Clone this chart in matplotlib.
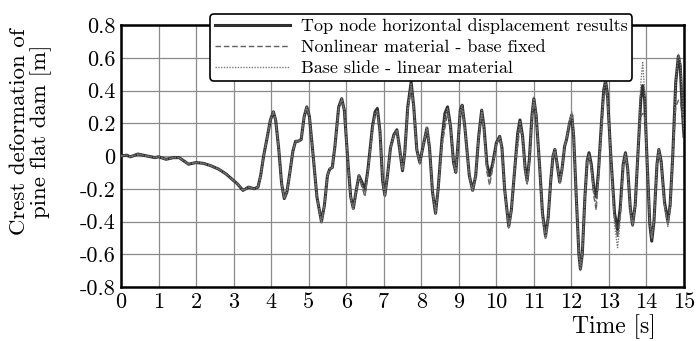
import matplotlib
matplotlib.use("Agg")
import matplotlib.pyplot as plt

plt.rcParams['font.family'] = ['cmr10', 'DejaVu Serif']
plt.rcParams['axes.unicode_minus'] = False
plt.rcParams['mathtext.fontset'] = 'cm'

# time [s]
t = [0.0, 0.15, 0.25, 0.45, 0.7, 0.9, 1.0, 1.2, 1.4, 1.55, 1.8, 2.0, 2.2, 2.4, 2.6, 2.8,
     3.0, 3.1, 3.25, 3.4, 3.55,
     3.65, 3.72, 3.8, 3.9, 3.98, 4.06, 4.12, 4.2, 4.28, 4.35,
     4.42, 4.5, 4.58, 4.65, 4.72, 4.8, 4.88, 4.95, 5.02, 5.1,
     5.22, 5.34, 5.42, 5.5, 5.56, 5.63, 5.7, 5.8, 5.88, 5.95,
     6.05, 6.12, 6.19, 6.26, 6.34, 6.42, 6.5, 6.58, 6.7, 6.77,
     6.83, 6.9, 6.97, 7.03, 7.1, 7.18, 7.27, 7.35, 7.42, 7.5,
     7.56, 7.64, 7.73, 7.8, 7.88, 7.96, 8.04, 8.15, 8.22, 8.3,
     8.38, 8.45, 8.55, 8.63, 8.7, 8.78, 8.86, 8.92, 8.98, 9.04,
     9.09, 9.16, 9.28, 9.37, 9.45, 9.53, 9.61, 9.67, 9.75, 9.82,
     9.9, 10.0, 10.09, 10.15, 10.22, 10.33, 10.4, 10.5, 10.57, 10.63,
     10.7, 10.77, 10.82, 10.88, 10.95, 11.0, 11.06, 11.15, 11.23, 11.31,
     11.38, 11.45, 11.51, 11.56, 11.62, 11.69, 11.75, 11.82, 11.87, 11.95,
     12.01, 12.06, 12.13, 12.2, 12.24, 12.29, 12.36, 12.42, 12.47, 12.53,
     12.6, 12.66, 12.72, 12.8, 12.86, 12.91, 12.96, 13.05, 13.15, 13.23,
     13.3, 13.38, 13.44, 13.5, 13.57, 13.63, 13.7, 13.78, 13.85, 13.9,
     13.95, 14.02, 14.09, 14.14, 14.2, 14.28, 14.33, 14.39, 14.48, 14.57,
     14.63, 14.7, 14.78, 14.85, 14.9, 14.95, 15.0]

# Top node horizontal displacement [m]
top_node = [0.0, 0.005, -0.005, 0.012, 0.0, -0.01, -0.005, -0.02, -0.01, -0.01, -0.05, -0.04,
            -0.045, -0.06, -0.08, -0.11, -0.15, -0.17, -0.21, -0.19, -0.20,
            -0.19, -0.12, 0.0, 0.12, 0.22, 0.27, 0.22, 0.05, -0.17, -0.26,
            -0.22, -0.1, 0.03, 0.09, 0.09, 0.10, 0.24, 0.30, 0.24, 0.05,
            -0.25, -0.40, -0.30, -0.12, -0.08, -0.07, 0.06, 0.30, 0.35, 0.28,
            -0.05, -0.25, -0.32, -0.22, -0.12, -0.16, -0.21, -0.08, 0.18, 0.27,
            0.29, 0.15, -0.15, -0.24, -0.12, 0.05, 0.13, 0.16, 0.05, -0.09,
            0.02, 0.30, 0.45, 0.30, 0.04, -0.04, 0.05, 0.17, 0.05, -0.22,
            -0.35, -0.20, 0.10, 0.26, 0.30, 0.18, -0.04, -0.10, 0.08, 0.28,
            0.31, 0.18, -0.12, -0.21, -0.12, 0.12, 0.28, 0.18, -0.05, -0.12,
            -0.05, 0.08, 0.12, 0.05, -0.20, -0.43, -0.33, -0.05, 0.14, 0.22,
            0.12, -0.08, -0.15, -0.02, 0.25, 0.35, 0.25, -0.05, -0.35, -0.49,
            -0.38, -0.15, 0.0, 0.04, -0.05, -0.16, -0.08, 0.06, 0.10, 0.20,
            0.25, 0.12, -0.25, -0.60, -0.69, -0.60, -0.25, -0.03, 0.02, -0.05,
            -0.20, -0.25, -0.10, 0.20, 0.40, 0.46, 0.38, 0.0, -0.35, -0.45,
            -0.32, -0.05, 0.02, -0.08, -0.32, -0.42, -0.30, 0.05, 0.35, 0.43,
            0.35, -0.05, -0.42, -0.52, -0.40, -0.05, 0.04, -0.03, -0.28, -0.40,
            -0.30, 0.0, 0.45, 0.61, 0.55, 0.30, 0.12]

# Nonlinear material - base fixed [m]
nonlinear_fixed = [0.0, 0.005, -0.005, 0.012, 0.0, -0.01, -0.005, -0.02, -0.01, -0.01, -0.05, -0.04,
                   -0.045, -0.06, -0.08, -0.11, -0.15, -0.17, -0.21, -0.19, -0.20,
                   -0.19, -0.12, 0.0, 0.12, 0.22, 0.27, 0.22, 0.05, -0.17, -0.26,
                   -0.22, -0.1, 0.03, 0.09, 0.09, 0.10, 0.24, 0.30, 0.24, 0.05,
                   -0.25, -0.40, -0.30, -0.12, -0.08, -0.07, 0.06, 0.29, 0.34, 0.28,
                   -0.05, -0.25, -0.32, -0.22, -0.13, -0.19, -0.25, -0.10, 0.16, 0.25,
                   0.27, 0.14, -0.14, -0.24, -0.12, 0.05, 0.12, 0.15, 0.05, -0.09,
                   0.02, 0.28, 0.42, 0.29, 0.04, -0.04, 0.05, 0.16, 0.05, -0.21,
                   -0.34, -0.20, 0.06, 0.17, 0.26, 0.18, -0.04, -0.10, 0.08, 0.26,
                   0.29, 0.17, -0.12, -0.21, -0.12, 0.11, 0.26, 0.16, -0.10, -0.18,
                   -0.08, 0.07, 0.11, 0.04, -0.21, -0.44, -0.33, -0.05, 0.06, 0.18,
                   0.10, -0.10, -0.18, -0.04, 0.23, 0.33, 0.24, -0.05, -0.36, -0.50,
                   -0.38, -0.15, 0.0, 0.03, -0.05, -0.16, -0.08, 0.06, 0.10, 0.21,
                   0.26, 0.12, -0.25, -0.58, -0.66, -0.58, -0.25, -0.04, 0.0, -0.08,
                   -0.25, -0.33, -0.15, 0.15, 0.35, 0.40, 0.34, 0.0, -0.38, -0.50,
                   -0.36, -0.06, 0.0, -0.08, -0.32, -0.42, -0.30, 0.05, 0.24, 0.26,
                   0.25, -0.05, -0.40, -0.50, -0.38, -0.05, 0.02, -0.04, -0.30, -0.42,
                   -0.30, 0.0, 0.30, 0.34, 0.34, 0.25, 0.20]

# Base slide - linear material [m]
base_slide = [0.0, 0.005, -0.005, 0.012, 0.0, -0.01, -0.005, -0.02, -0.01, -0.01, -0.05, -0.04,
              -0.045, -0.06, -0.08, -0.11, -0.15, -0.17, -0.21, -0.19, -0.20,
              -0.19, -0.12, 0.0, 0.12, 0.22, 0.27, 0.22, 0.05, -0.17, -0.26,
              -0.22, -0.1, 0.03, 0.09, 0.09, 0.10, 0.24, 0.30, 0.24, 0.05,
              -0.25, -0.41, -0.30, -0.12, -0.08, -0.07, 0.06, 0.30, 0.35, 0.28,
              -0.05, -0.26, -0.33, -0.22, -0.12, -0.17, -0.23, -0.09, 0.17, 0.26,
              0.28, 0.15, -0.15, -0.25, -0.12, 0.05, 0.13, 0.16, 0.05, -0.09,
              0.02, 0.29, 0.44, 0.30, 0.04, -0.05, 0.05, 0.18, 0.05, -0.22,
              -0.35, -0.20, 0.08, 0.24, 0.29, 0.18, -0.04, -0.10, 0.08, 0.28,
              0.31, 0.18, -0.12, -0.22, -0.12, 0.12, 0.28, 0.17, -0.08, -0.17,
              -0.07, 0.08, 0.12, 0.05, -0.20, -0.44, -0.33, -0.05, 0.13, 0.21,
              0.12, -0.09, -0.17, -0.03, 0.25, 0.36, 0.26, -0.05, -0.36, -0.51,
              -0.38, -0.15, 0.0, 0.04, -0.05, -0.17, -0.08, 0.06, 0.10, 0.21,
              0.27, 0.13, -0.25, -0.61, -0.70, -0.61, -0.25, -0.03, 0.01, -0.06,
              -0.22, -0.30, -0.12, 0.20, 0.40, 0.46, 0.38, 0.0, -0.42, -0.56,
              -0.40, -0.06, 0.02, -0.08, -0.33, -0.43, -0.30, 0.05, 0.45, 0.57,
              0.40, -0.05, -0.42, -0.50, -0.40, -0.05, 0.04, -0.03, -0.30, -0.43,
              -0.32, 0.0, 0.45, 0.62, 0.58, 0.40, 0.15]

assert len(t) == len(top_node) == len(nonlinear_fixed) == len(base_slide)

labels = ["Top node horizontal displacement results",
          "Nonlinear material - base fixed",
          "Base slide - linear material"]
xticks = list(range(0, 16))
yticks = [-0.8, -0.6, -0.4, -0.2, 0.0, 0.2, 0.4, 0.6, 0.8]
ytick_labels = ["-0.8", "-0.6", "-0.4", "-0.2", "0", "0.2", "0.4", "0.6", "0.8"]

fig = plt.figure(figsize=(6.96, 3.41), dpi=100)
ax = fig.add_axes([121/696, 1-287/341, 563/696, 262/341])

l1, = ax.plot(t, top_node, color='#303030', lw=2.2, ls='-', zorder=3,
              solid_joinstyle='round')
l2, = ax.plot(t, nonlinear_fixed, color='#606060', lw=1.0, ls=(0, (4, 2)), zorder=4)
l3, = ax.plot(t, base_slide, color='#7a7a7a', lw=1.0, ls=(0, (1, 1)), zorder=5)

ax.set_xlim(0, 15)
ax.set_ylim(-0.8, 0.8)
ax.set_xticks(xticks)
ax.set_xticklabels([str(v) for v in xticks])
ax.set_yticks(yticks)
ax.set_yticklabels(ytick_labels)
ax.tick_params(length=0, labelsize=16, pad=4)
ax.grid(True, color='#8a8a8a', lw=0.9)
ax.set_axisbelow(True)
for s in ax.spines.values():
    s.set_linewidth(1.8)
    s.set_color('black')

ax.set_ylabel("Crest deformation of\npine flat dam [m]", fontsize=16.5, linespacing=1.1)
ax.yaxis.set_label_coords((52 - 121) / 563, 0.594)
fig.text(614/696, 1-327/341, "Time [s]", fontsize=17, ha='center', va='center')

leg = fig.legend([l1, l2, l3], labels, loc='upper left',
                 bbox_to_anchor=(210/696, 1-14/341), fontsize=13,
                 handlelength=4.2, labelspacing=0.3, borderpad=0.25,
                 handletextpad=0.6, fancybox=True, framealpha=1, edgecolor='black',
                 borderaxespad=0)
leg.get_frame().set_linewidth(1.2)
leg.set_zorder(10)

fig.savefig("out.png", dpi=100)
